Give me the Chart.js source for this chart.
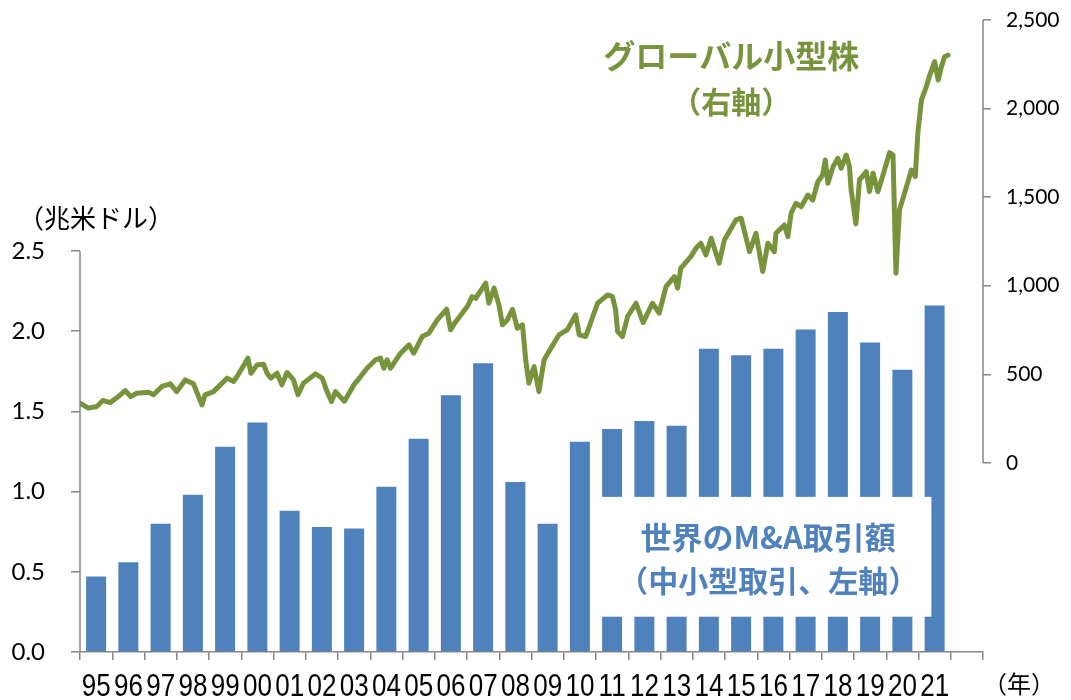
<!DOCTYPE html>
<html lang="ja">
<head>
<meta charset="utf-8">
<title>世界のM&amp;A取引額とグローバル小型株</title>
<script src="https://cdn.jsdelivr.net/npm/chart.js@4.4.1/dist/chart.umd.min.js"></script>
<style>
  html, body { margin: 0; padding: 0; background: #fff; }
  #wrap { width: 1071px; height: 700px; position: relative; }
</style>
</head>
<body>
<div id="wrap"><canvas id="chart"></canvas></div>
<script>
// categories (last slot is empty, the axis runs one year past 2021)
const yearLabels = ['95', '96', '97', '98', '99', '00', '01', '02', '03', '04', '05', '06', '07', '08',
  '09', '10', '11', '12', '13', '14', '15', '16', '17', '18', '19', '20', '21', ''];

// world M&A value, small/mid deals (trillion USD, left axis)
const mnaValues = [0.47, 0.56, 0.80, 0.98, 1.28, 1.43, 0.88, 0.78, 0.77, 1.03, 1.33, 1.60, 1.80, 1.06,
  0.80, 1.31, 1.39, 1.44, 1.41, 1.89, 1.85, 1.89, 2.01, 2.12, 1.93, 1.76, 2.16];

// global small cap index (right axis)
const smallCapYears = [
  1995.00, 1995.26, 1995.52, 1995.71, 1995.93, 1996.14, 1996.40, 1996.57, 1996.76, 1997.12,
  1997.28, 1997.54, 1997.80, 1998.00, 1998.26, 1998.52, 1998.78, 1998.88, 1999.14, 1999.56,
  1999.76, 1999.87, 2000.21, 2000.30, 2000.49, 2000.69, 2000.80, 2000.92, 2001.11, 2001.26,
  2001.42, 2001.62, 2001.76, 2001.93, 2002.30, 2002.51, 2002.66, 2002.80, 2002.92, 2003.20,
  2003.49, 2003.70, 2003.90, 2004.16, 2004.32, 2004.42, 2004.52, 2004.63, 2004.94, 2005.20,
  2005.35, 2005.61, 2005.82, 2006.08, 2006.37, 2006.49, 2006.65, 2007.01, 2007.16, 2007.27,
  2007.58, 2007.68, 2007.84, 2007.99, 2008.10, 2008.25, 2008.41, 2008.56, 2008.72, 2008.82,
  2008.92, 2009.08, 2009.23, 2009.39, 2009.60, 2009.85, 2010.11, 2010.37, 2010.48, 2010.68,
  2011.05, 2011.36, 2011.51, 2011.61, 2011.67, 2011.82, 2011.98, 2012.24, 2012.46, 2012.75,
  2012.96, 2013.17, 2013.43, 2013.53, 2013.63, 2013.94, 2014.10, 2014.25, 2014.41, 2014.57,
  2014.82, 2014.98, 2015.34, 2015.50, 2015.76, 2015.96, 2016.17, 2016.33, 2016.53, 2016.58,
  2016.84, 2016.95, 2017.05, 2017.20, 2017.36, 2017.57, 2017.72, 2017.88, 2018.03, 2018.11,
  2018.19, 2018.35, 2018.50, 2018.60, 2018.76, 2018.86, 2018.91, 2019.06, 2019.17, 2019.38,
  2019.48, 2019.59, 2019.74, 2019.90, 2020.10, 2020.21, 2020.30, 2020.41, 2020.57, 2020.78,
  2020.90, 2020.98, 2021.09, 2021.24, 2021.35, 2021.50, 2021.61, 2021.71, 2021.81, 2021.92
];
const smallCapValues = [
  337, 309, 318, 352, 340, 367, 408, 374, 393, 399,
  384, 431, 446, 402, 468, 446, 327, 384, 402, 478,
  459, 487, 591, 506, 553, 557, 506, 478, 506, 440,
  510, 468, 384, 450, 502, 478, 402, 346, 402, 348,
  440, 487, 534, 581, 591, 534, 581, 534, 619, 666,
  619, 713, 732, 807, 867, 751, 797, 882, 938, 929,
  1014, 901, 986, 892, 779, 807, 867, 760, 779, 581,
  450, 543, 402, 581, 647, 722, 751, 835, 722, 713,
  901, 948, 938, 863, 741, 713, 826, 901, 792, 901,
  845, 995, 1051, 986, 1099, 1164, 1212, 1240, 1174, 1268,
  1127, 1258, 1371, 1381, 1192, 1296, 1080, 1240, 1192, 1296,
  1343, 1277, 1409, 1465, 1446, 1512, 1484, 1587, 1625, 1710,
  1578, 1672, 1719, 1663, 1738, 1672, 1541, 1349, 1597, 1644,
  1531, 1635, 1531, 1625, 1751, 1738, 1070, 1428, 1524, 1653,
  1616, 1862, 2048, 2123, 2189, 2265, 2161, 2236, 2293, 2302
];

const leftTicks = [0, 0.5, 1.0, 1.5, 2.0, 2.5];
const rightTicks = [0, 500, 1000, 1500, 2000, 2500];

const GREEN = '#77933c';
const BLUE = '#4f81bd';
const AXIS = '#868686';
const CJK = '"Noto Sans CJK JP", "Noto Sans", sans-serif';

// axis lines that only run over the labelled range
const axisLines = {
  id: 'axisLines',
  afterDraw(chart) {
    const { ctx } = chart;
    const yL = chart.scales.yL, yR = chart.scales.yR;
    ctx.save();
    ctx.strokeStyle = AXIS;
    ctx.lineWidth = 1.5;
    ctx.beginPath();
    ctx.moveTo(yL.right, yL.getPixelForValue(leftTicks[leftTicks.length - 1]));
    ctx.lineTo(yL.right, yL.getPixelForValue(0));
    ctx.moveTo(yR.left, yR.getPixelForValue(rightTicks[rightTicks.length - 1]));
    ctx.lineTo(yR.left, yR.getPixelForValue(0));
    ctx.stroke();
    ctx.restore();
  }
};

// year labels: tall narrow digits, so they are drawn squeezed sideways
const yearTickLabels = {
  id: 'yearTickLabels',
  afterDraw(chart) {
    const { ctx } = chart;
    const x = chart.scales.x;
    ctx.save();
    ctx.fillStyle = '#000';
    ctx.font = '31px "Liberation Sans", sans-serif';
    ctx.textAlign = 'center';
    ctx.textBaseline = 'alphabetic';
    yearLabels.forEach((lab, i) => {
      if (!lab) return;
      ctx.save();
      ctx.translate(x.getPixelForValue(i), x.top + 44);
      ctx.scale(0.84, 1);
      ctx.fillText(lab, 0, 0);
      ctx.restore();
    });
    ctx.restore();
  }
};

// white label box and the texts
const notes = {
  id: 'notes',
  afterDatasetsDraw(chart) {
    const { ctx } = chart;
    const xT = chart.scales.xT, yL = chart.scales.yL, yR = chart.scales.yR;
    ctx.save();
    const bx0 = xT.getPixelForValue(2011.15), bx1 = xT.getPixelForValue(2021.4);
    const by0 = yL.getPixelForValue(0.967), by1 = yL.getPixelForValue(0.22);
    ctx.fillStyle = '#fff';
    ctx.fillRect(bx0, by0, bx1 - bx0, by1 - by0);

    ctx.textAlign = 'center';
    ctx.textBaseline = 'middle';
    ctx.fillStyle = BLUE;
    const bcx = xT.getPixelForValue(2016.34);
    ctx.font = 'bold 31px ' + CJK;
    ctx.fillText('世界のM&A取引額', bcx, yL.getPixelForValue(0.718));
    ctx.font = 'bold 30px ' + CJK;
    ctx.fillText('（中小型取引、左軸）', bcx, yL.getPixelForValue(0.445));

    ctx.fillStyle = GREEN;
    const gcx = xT.getPixelForValue(2015.19);
    ctx.font = 'bold 32px ' + CJK;
    ctx.fillText('グローバル小型株', gcx, yR.getPixelForValue(2297));
    ctx.font = 'bold 30px ' + CJK;
    ctx.fillText('（右軸）', gcx, yR.getPixelForValue(2037));

    ctx.fillStyle = '#000';
    ctx.font = '26px ' + CJK;
    ctx.fillText('（兆米ドル）', 96, 218);
    ctx.font = '24px ' + CJK;
    ctx.fillText('（年）', 1019, 684);
    ctx.restore();
  }
};

const ctx = document.getElementById('chart').getContext('2d');
new Chart(ctx, {
  data: {
    labels: yearLabels,
    datasets: [
      {
        type: 'line',
        label: 'グローバル小型株',
        data: smallCapYears.map((y, i) => ({ x: y, y: smallCapValues[i] })),
        xAxisID: 'xT',
        yAxisID: 'yR',
        borderColor: GREEN,
        borderWidth: 5,
        borderJoinStyle: 'round',
        borderCapStyle: 'round',
        pointRadius: 0,
        tension: 0,
        order: 0
      },
      {
        type: 'bar',
        label: '世界のM&A取引額',
        data: mnaValues,
        xAxisID: 'x',
        yAxisID: 'yL',
        backgroundColor: BLUE,
        grouped: false,
        barPercentage: 0.62,
        categoryPercentage: 1,
        order: 1
      }
    ]
  },
  options: {
    responsive: true,
    maintainAspectRatio: false,
    animation: false,
    layout: { padding: { top: 20, left: 0, right: 0, bottom: 0 } },
    plugins: { legend: { display: false }, tooltip: { enabled: false } },
    scales: {
      x: {
        type: 'category',
        position: 'bottom',
        grid: { display: true, offset: true, drawOnChartArea: false, drawTicks: true, tickLength: 8, color: AXIS, lineWidth: 1.5 },
        border: { display: true, color: AXIS, width: 1.5 },
        ticks: { display: false, autoSkip: false, maxRotation: 0, minRotation: 0 },
        afterFit(s) { s.height = 48; s.paddingLeft = 0; s.paddingRight = 0; }
      },
      xT: {
        type: 'linear',
        display: false,
        min: 1995,
        max: 2023
      },
      yL: {
        type: 'linear',
        position: 'left',
        min: 0,
        max: 3.94,
        grid: { display: true, drawOnChartArea: false, drawTicks: true, tickLength: 9, color: AXIS, lineWidth: 1.5 },
        border: { display: false },
        ticks: {
          padding: 26, color: '#000',
          font: { family: 'Lato, sans-serif', size: 24 },
          callback: v => v.toFixed(1)
        },
        afterBuildTicks(s) { s.ticks = leftTicks.map(v => ({ value: v })); },
        afterFit(s) { s.width = 80; s.paddingTop = 0; s.paddingBottom = 0; }
      },
      yR: {
        type: 'linear',
        position: 'right',
        min: -1068,
        max: 2500,
        grid: { display: true, drawOnChartArea: false, drawTicks: true, tickLength: 8, color: AXIS, lineWidth: 1.5 },
        border: { display: false },
        ticks: {
          padding: 15, color: '#000',
          font: { family: 'Lato, sans-serif', size: 21 },
          callback: v => v.toLocaleString('en-US')
        },
        afterBuildTicks(s) { s.ticks = rightTicks.map(v => ({ value: v })); },
        afterFit(s) { s.width = 88; s.paddingTop = 0; s.paddingBottom = 0; }
      }
    }
  },
  plugins: [axisLines, yearTickLabels, notes]
});
</script>
</body>
</html>
